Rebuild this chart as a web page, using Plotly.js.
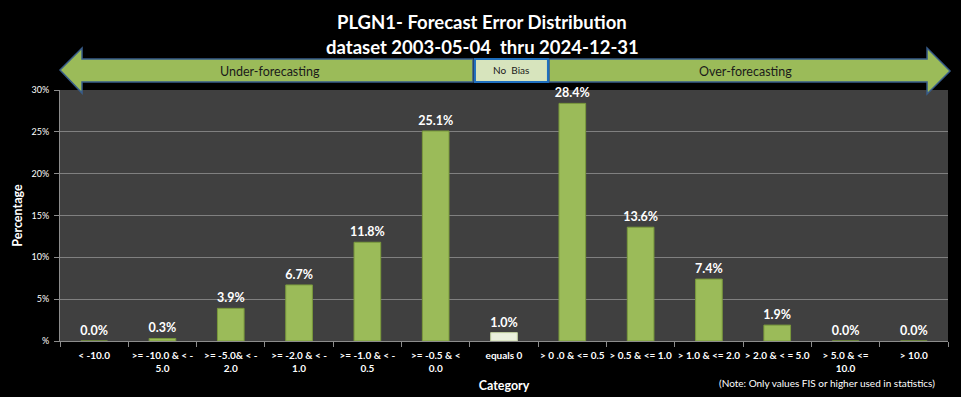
<!DOCTYPE html>
<html><head><meta charset="utf-8">
<script src="https://cdn.plot.ly/plotly-3.0.1.min.js"></script>
<style>html,body{margin:0;padding:0;background:#000;}#chart{width:961px;height:397px;}</style>
</head><body><div id="chart"></div>
<script>
const categories = [
  "< -10.0", ">= -10.0 & < -<br>5.0", ">= -5.0& < -<br>2.0", ">= -2.0 & < -<br>1.0",
  ">= -1.0 & < -<br>0.5", ">= -0.5 & <<br>0.0", "equals 0", "> 0 .0 & <= 0.5",
  "> 0.5 & <= 1.0", "> 1.0 & <= 2.0", "> 2.0 & < = 5.0", "> 5.0 & <=<br>10.0", "> 10.0"
];
const percentages = [0.0, 0.3, 3.9, 6.7, 11.8, 25.1, 1.0, 28.4, 13.6, 7.4, 1.9, 0.0, 0.0];
const yTickVals = [0, 5, 10, 15, 20, 25, 30];
const yTickText = ["%", "5%", "10%", "15%", "20%", "25%", "30%"];
const titleLines = ["PLGN1- Forecast Error Distribution", "dataset 2003-05-04  thru 2024-12-31"];

const W = 961, H = 397, mL = 60, mR = 13, mT = 90, mB = 56;
const pw = W - mL - mR, ph = H - mT - mB;
function fx(px) { return (px - mL) / pw; }
function fy(py) { return (H - mB - py) / ph; }
function P(px, py) { return fx(px).toFixed(4) + ',' + fy(py).toFixed(4); }
function path(pts) { return 'M' + pts.map(p => P(p[0], p[1])).join(' L') + ' Z'; }

const barColors = categories.map(c => c === "equals 0" ? "#ebf1de" : "#9bbb59");
const lineColors = categories.map(c => c === "equals 0" ? "#c4d3a3" : "#7a9a3c");

const FONT = "Lato, 'Open Sans', sans-serif";

function label(px, py, text, size, color, weight, xanchor) {
  return { xref: 'paper', yref: 'paper', x: fx(px), y: fy(py), text: text,
    xanchor: xanchor || 'center', yanchor: 'middle', showarrow: false,
    font: { family: FONT, size: size, color: color, weight: weight || 'normal' } };
}

const trace = {
  type: 'bar', x: categories, y: percentages,
  marker: { color: barColors, line: { color: lineColors, width: 1 } },
  width: 0.39,
  texttemplate: '%{y:.1f}%', textposition: 'outside', cliponaxis: false, constraintext: 'none',
  textfont: { family: FONT, size: 12.5, color: '#ffffff', weight: 'bold' },
  hoverinfo: 'x+y'
};

const layout = {
  width: W, height: H,
  margin: { l: mL, r: mR, t: mT, b: mB },
  paper_bgcolor: '#000000', plot_bgcolor: '#404040',
  showlegend: false,
  xaxis: {
    type: 'category', tickangle: 0,
    tickfont: { family: FONT, size: 10, color: '#ffffff', weight: 'bold' },
    ticks: 'outside', tickson: 'boundaries', ticklen: 5, tickcolor: '#8c8c8c',
    ticklabelstandoff: 5,
    showline: true, linecolor: '#8c8c8c', linewidth: 1,
    showgrid: false,
    title: { text: 'Category', font: { family: FONT, size: 12.5, color: '#ffffff', weight: 'bold' }, standoff: 8 }
  },
  yaxis: {
    range: [0, 30], tickvals: yTickVals, ticktext: yTickText,
    tickfont: { family: FONT, size: 9, color: '#ffffff' },
    ticks: 'outside', ticklen: 5, tickcolor: '#8c8c8c',
    ticklabelstandoff: 3,
    showline: true, linecolor: '#8c8c8c',
    gridcolor: '#808080', gridwidth: 1, zeroline: false,
    title: { text: 'Percentage', font: { family: FONT, size: 12.5, color: '#ffffff', weight: 'bold' }, standoff: 6 }
  },
  shapes: [
    { type: 'path', xref: 'paper', yref: 'paper', layer: 'below',
      path: path([[60,70],[82,48],[82,59],[473,59],[473,82],[82,82],[82,93]]),
      fillcolor: '#9bbb59', line: { color: '#385d8a', width: 1.5 } },
    { type: 'path', xref: 'paper', yref: 'paper', layer: 'below',
      path: path([[549,59],[927,59],[927,48],[950,71],[927,94],[927,82],[549,82]]),
      fillcolor: '#9bbb59', line: { color: '#385d8a', width: 1.5 } },
    { type: 'path', xref: 'paper', yref: 'paper', layer: 'below',
      path: path([[475,59],[548,59],[548,82],[475,82]]),
      fillcolor: '#d7e4bd', line: { color: '#1f6fbf', width: 2 } }
  ],
  annotations: [
    label(482, 22, titleLines[0], 18.5, '#ffffff', 'bold'),
    label(482, 47, titleLines[1], 18.5, '#ffffff', 'bold'),
    label(270, 71, 'Under-forecasting', 12.5, '#1a1a1a'),
    label(511, 70, 'No  Bias', 10, '#1a1a1a'),
    label(745, 71, 'Over-forecasting', 12.5, '#1a1a1a'),
    label(937, 383, '(Note: Only values FIS or higher used in statistics)', 10, '#ffffff', 'normal', 'right')
  ]
};

Plotly.newPlot('chart', [trace], layout, { displayModeBar: false, staticPlot: true });
</script></body></html>
